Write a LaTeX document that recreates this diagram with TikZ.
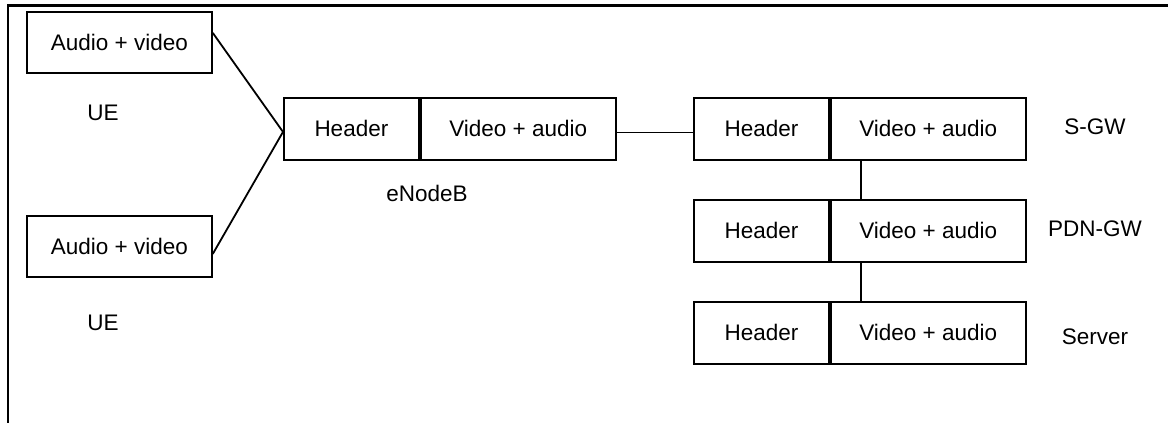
\documentclass[tikz,border=0pt]{standalone}
\usepackage{fontspec}
\setmainfont{Liberation Sans}
\begin{document}
\begin{tikzpicture}[x=1pt,y=-1pt,
  box/.style={draw,line width=1.8pt,rectangle,inner sep=0pt,anchor=north west,font=\fontsize{22.5}{26}\selectfont},
  hdr/.style={box,minimum width=135pt,minimum height=62pt},
  pay/.style={box,minimum width=195pt,minimum height=62pt},
  uebox/.style={box,minimum width=185pt,minimum height=61pt},
  lbl/.style={inner sep=0pt,font=\fontsize{22.5}{26}\selectfont},
  conn/.style={line width=1.8pt}]
\useasboundingbox (0,0) rectangle (1168,423);
\fill[white] (0,0) rectangle (1168,423);
\draw[line width=2.2pt] (8,424) -- (8,5.5) -- (1169,5.5);
% UE
\node[uebox] (ue1) at (26,11) {Audio + video};
\node[uebox] (ue2) at (26,215) {Audio + video};
\node[lbl] (ue1l) at (103,113) {UE};
\node[lbl] (ue2l) at (103,323) {UE};
% eNodeB
\node[hdr] (enbh) at (283,97) {Header};
\node[pay] (enbp) at (enbh.north east) {Video + audio};
\node[lbl] (enbl) at (427,193) {eNodeB};
% S-GW
\node[hdr] (sgwh) at (693,97) {Header};
\node[pay] (sgwp) at (sgwh.north east) {Video + audio};
\node[lbl] (sgwl) at (1095,127) {S-GW};
% PDN-GW
\node[hdr] (pdnh) at (693,199) {Header};
\node[pay] (pdnp) at (pdnh.north east) {Video + audio};
\node[lbl] (pdnl) at (1095,229) {PDN-GW};
% Server
\node[hdr] (srvh) at (693,301) {Header};
\node[pay] (srvp) at (srvh.north east) {Video + audio};
\node[lbl] (srvl) at (1095,337) {Server};
% connectors
\draw[conn] ([yshift=9.5pt]ue1.east) -- ([yshift=-3pt]enbh.west);
\draw[conn] ([yshift=-7.5pt]ue2.east) -- ([yshift=-3pt]enbh.west);
\draw[conn] ([yshift=-3.5pt]enbp.east) -- ([yshift=-3.5pt]sgwh.west);
\draw[conn] ([xshift=31pt]sgwp.south west) -- ([xshift=31pt]pdnp.north west);
\draw[conn] ([xshift=31pt]pdnp.south west) -- ([xshift=31pt]srvp.north west);
\end{tikzpicture}
\end{document}
